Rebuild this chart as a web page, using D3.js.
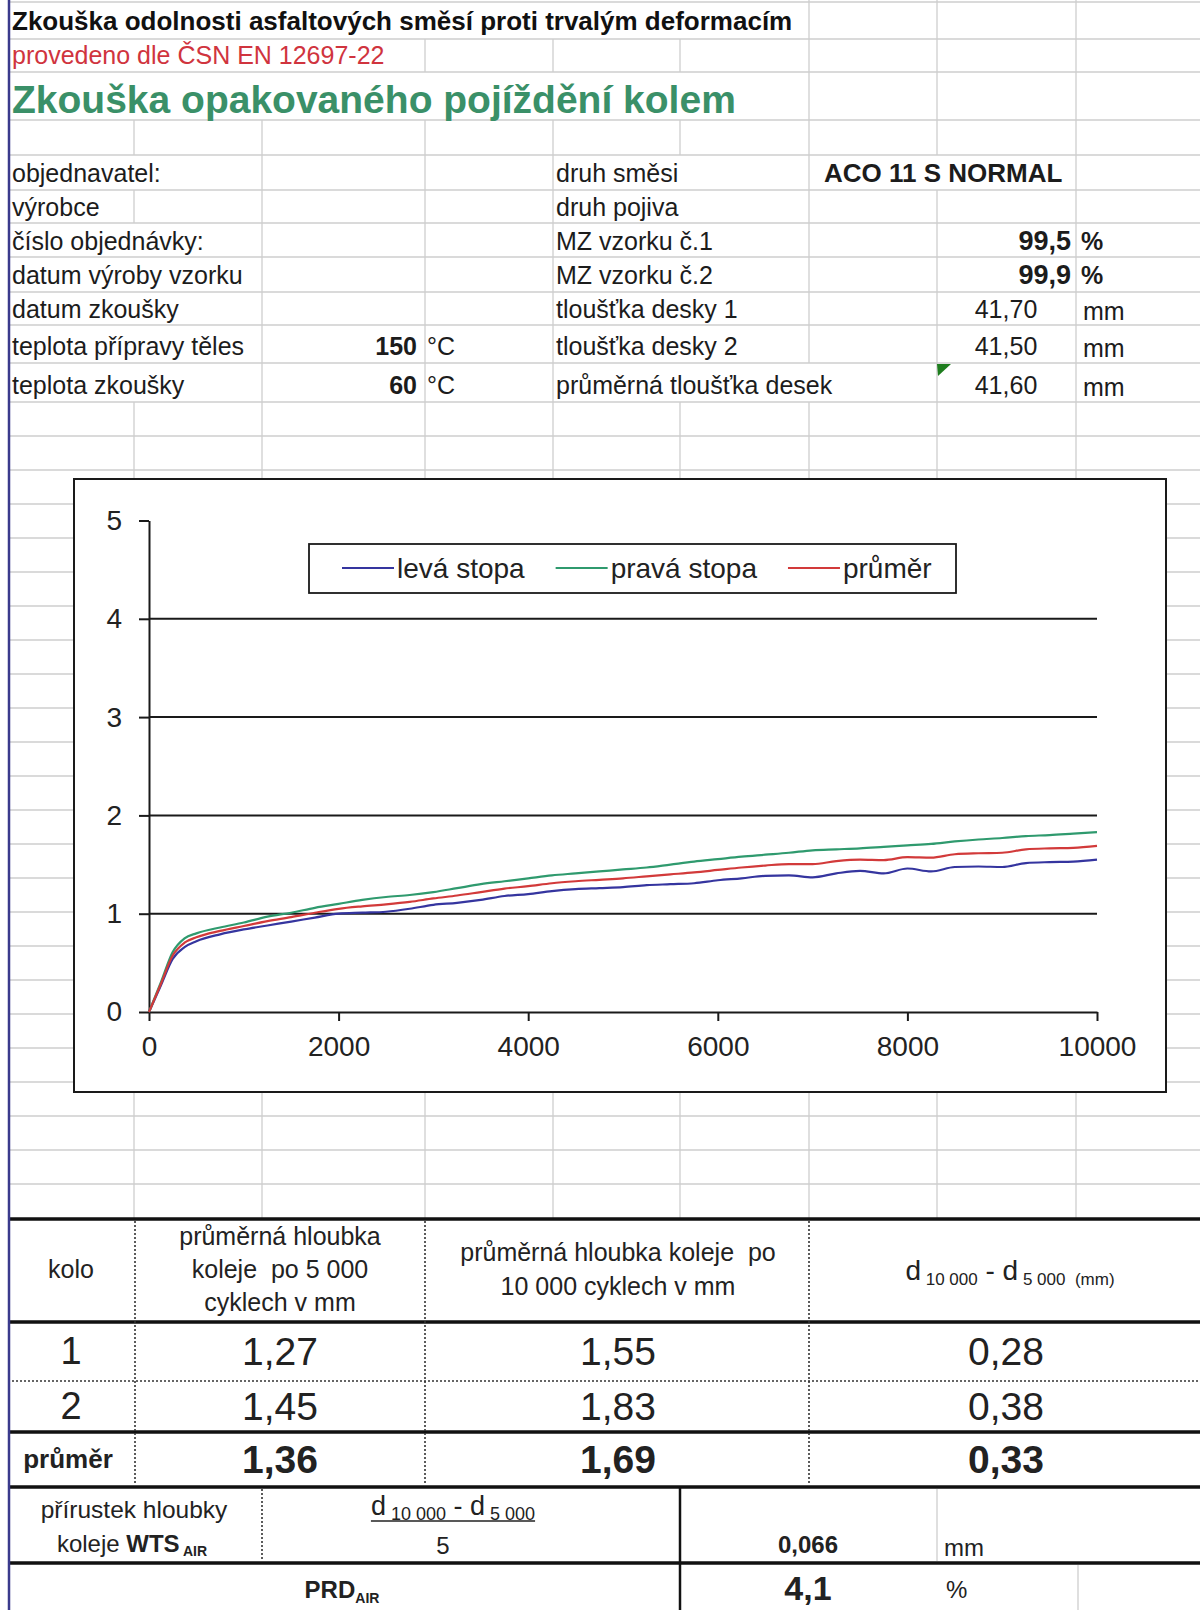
<!DOCTYPE html>
<html><head><meta charset="utf-8">
<script src="https://cdn.jsdelivr.net/npm/d3@7"></script>
<style>
body{margin:0;background:#fff;}
svg{display:block;font-family:"Liberation Sans",Arial,sans-serif;}
text{white-space:pre;}
</style></head><body>
<svg id="sheet" width="1200" height="1610"></svg>
<script>
// ---- wheel-tracking test data (rut depth in mm vs. load cycles) ----
const cycles = [0,125,250,375,500,750,1000,1250,1500,1750,2000,2250,2500,2750,3000,3250,3500,3750,4000,4250,4500,4750,5000,5250,5500,5750,6000,6250,6500,6750,7000,7250,7500,7750,8000,8250,8500,8750,9000,9250,9500,9750,10000];
const levaStopa = [0,0.27,0.54,0.66,0.72,0.79,0.84,0.88,0.92,0.96,1.00,1.01,1.02,1.05,1.09,1.11,1.14,1.18,1.20,1.23,1.25,1.26,1.27,1.29,1.30,1.31,1.34,1.36,1.385,1.39,1.37,1.41,1.435,1.41,1.46,1.43,1.475,1.48,1.475,1.515,1.525,1.53,1.55];
const pravaStopa = [0,0.30,0.61,0.75,0.80,0.86,0.91,0.97,1.01,1.06,1.10,1.14,1.17,1.19,1.22,1.26,1.30,1.33,1.36,1.39,1.41,1.43,1.45,1.47,1.50,1.53,1.555,1.58,1.60,1.62,1.645,1.655,1.665,1.68,1.695,1.71,1.735,1.755,1.77,1.79,1.80,1.815,1.83];
const prumer = [0,0.285,0.575,0.705,0.76,0.825,0.875,0.925,0.965,1.01,1.05,1.075,1.095,1.12,1.155,1.185,1.22,1.255,1.28,1.31,1.33,1.345,1.36,1.38,1.40,1.42,1.445,1.47,1.49,1.505,1.505,1.535,1.55,1.545,1.575,1.57,1.605,1.615,1.62,1.655,1.665,1.67,1.69];
const seriesNames = ["levá stopa","pravá stopa","průměr"];
const seriesColors = ["#35359f","#2f9a6e","#d23a3a"];
const xTicks = [0,2000,4000,6000,8000,10000];
const yTicks = [0,1,2,3,4,5];

// ---- header information ----
const leftLabels = ["objednavatel:","výrobce","číslo objednávky:","datum výroby vzorku","datum zkoušky","teplota přípravy těles","teplota zkoušky"];
const rightLabels = ["druh směsi","druh pojiva","MZ vzorku č.1","MZ vzorku č.2","tloušťka desky 1","tloušťka desky 2","průměrná tloušťka desek"];
const mixType = "ACO 11 S NORMAL";
const temperatures = [150, 60];
const compaction = [99.5, 99.9];
const thickness = [41.70, 41.50, 41.60];

// ---- results table ----
const koloLabels = ["1","2","průměr"];
const depth5000 = [1.27,1.45,1.36];
const depth10000 = [1.55,1.83,1.69];
const depthDiff = [0.28,0.38,0.33];
const wtsAir = 0.066;
const prdAir = 4.1;

const cz = d3.formatLocale({decimal:",", thousands:"\u00a0", grouping:[3], currency:["","\u00a0Kč"]});
const f1 = cz.format(".1f"), f2 = cz.format(".2f"), f3 = cz.format(".3f");

const svg = d3.select("#sheet");
svg.append("rect").attr("width",1200).attr("height",1610).attr("fill","#fff");
const gridG = svg.append("g");
const textG = svg.append("g");
const chartG = svg.append("g");
const tableG = svg.append("g");

const spill = [];
function cellText(g, xx, yy, str, o = {}) {
  const t = g.append("text").attr("x", xx).attr("y", yy).attr("dy", "0.35em")
    .attr("font-size", o.size || 25).attr("font-weight", o.bold ? "bold" : "normal")
    .attr("fill", o.fill || "#1c1c1c").attr("text-anchor", o.anchor || "start").text(str);
  if (g === textG) spill.push(t.node());
  return t;
}

// ---- sheet header ----
cellText(textG, 12, 21, "Zkouška odolnosti asfaltových směsí proti trvalým deformacím", {size:26, bold:true, fill:"#111"});
cellText(textG, 12, 55, "provedeno dle ČSN EN 12697-22", {size:25, fill:"#d0343e"});
cellText(textG, 12, 99, "Zkouška opakovaného pojíždění kolem", {size:39, bold:true, fill:"#3a9068"});

const infoY = [173, 207, 241, 275, 309, 346, 385];
leftLabels.forEach((s, i) => cellText(textG, 12, infoY[i], s));
rightLabels.forEach((s, i) => cellText(textG, 556, infoY[i], s));
temperatures.forEach((v, i) => {
  cellText(textG, 417, infoY[5 + i], String(v), {bold:true, anchor:"end"});
  cellText(textG, 427, infoY[5 + i], "°C");
});
cellText(textG, 824, infoY[0], mixType, {size:26, bold:true});
compaction.forEach((v, i) => {
  cellText(textG, 1071, infoY[2 + i], f1(v), {size:27, bold:true, anchor:"end"});
  cellText(textG, 1081, infoY[2 + i], "%", {bold:true});
});
thickness.forEach((v, i) => {
  cellText(textG, 1006, infoY[4 + i], f2(v), {anchor:"middle"});
  cellText(textG, 1083, infoY[4 + i] + 2, "mm");
});
// error indicator in the corner of the averaged thickness cell
textG.append("path").attr("d", "M937,364L951,364L938,376Z").attr("fill", "#1e7d1e");

// ---- spreadsheet gridlines (hidden where text spills over a cell border) ----
const colX = [134, 262, 425, 553, 680, 809, 937, 1076];
const rowY = [2, 39, 72, 120, 155, 190, 223, 257, 292, 325, 363, 402];
for (let yy = 436; yy <= 1184; yy += 34) rowY.push(yy);
const gridColor = "#cecece";
rowY.forEach(yy => gridG.append("line").attr("x1", 8).attr("x2", 1200).attr("y1", yy).attr("y2", yy)
  .attr("stroke", gridColor).attr("stroke-width", 1.3));
const boxes = spill.map(n => n.getBBox());
const bands = [0].concat(rowY.slice(1)).concat([1219]);
for (let i = 0; i < bands.length - 1; i++) {
  const top = bands[i], bot = bands[i + 1];
  colX.forEach(cx => {
    const hidden = boxes.some(b => {
      const cy = b.y + b.height / 2;
      return cy > top && cy < bot && cx > b.x - 2 && cx < b.x + b.width + 2;
    });
    if (!hidden) gridG.append("line").attr("x1", cx).attr("x2", cx).attr("y1", top).attr("y2", bot)
      .attr("stroke", gridColor).attr("stroke-width", 1.3);
  });
}
// window frame edge
svg.append("line").attr("x1", 9).attr("x2", 9).attr("y1", 0).attr("y2", 1610)
  .attr("stroke", "#3a3a8c").attr("stroke-width", 2.5);

// ---- chart ----
chartG.append("rect").attr("x", 74).attr("y", 479).attr("width", 1092).attr("height", 613)
  .attr("fill", "#fff").attr("stroke", "#1a1a1a").attr("stroke-width", 2);

const x = d3.scaleLinear().domain([0, 10000]).range([149, 1097]);
const y = d3.scaleLinear().domain([0, 5]).range([1012, 520.5]);

chartG.append("g").selectAll("line").data(yTicks.filter(v => v > 0 && v < 5)).join("line")
  .attr("x1", x(0)).attr("x2", x(10000)).attr("y1", d => y(d)).attr("y2", d => y(d))
  .attr("stroke", "#1a1a1a").attr("stroke-width", 2);

function styleAxis(g) {
  g.select(".domain").attr("stroke", "#1a1a1a").attr("stroke-width", 2);
  g.selectAll(".tick line").attr("stroke", "#1a1a1a").attr("stroke-width", 2);
  g.selectAll(".tick text").attr("font-size", 28).attr("fill", "#222")
    .attr("font-family", "'Liberation Sans',Arial,sans-serif");
}
chartG.append("g").attr("transform", `translate(${x(0)},0)`)
  .call(d3.axisLeft(y).tickValues(yTicks).tickSize(10).tickPadding(17).tickSizeOuter(0).tickFormat(d3.format("d")))
  .call(styleAxis);
chartG.append("g").attr("transform", `translate(0,${y(0)})`)
  .call(d3.axisBottom(x).tickValues(xTicks).tickSize(9).tickPadding(15).tickSizeOuter(0).tickFormat(d3.format("d")))
  .call(styleAxis);

const series = [levaStopa, pravaStopa, prumer];
const line = d3.line().x((d, i) => x(cycles[i])).y(d => y(d)).curve(d3.curveMonotoneX);
chartG.append("g").selectAll("path").data(series).join("path")
  .attr("d", line).attr("fill", "none")
  .attr("stroke", (d, i) => seriesColors[i]).attr("stroke-width", 2.2);

// legend
const legend = chartG.append("g");
legend.append("rect").attr("x", 309).attr("y", 544).attr("width", 647).attr("height", 49)
  .attr("fill", "#fff").attr("stroke", "#1a1a1a").attr("stroke-width", 1.8);
let lx = 342;
seriesNames.forEach((name, i) => {
  legend.append("line").attr("x1", lx).attr("x2", lx + 52).attr("y1", 568).attr("y2", 568)
    .attr("stroke", seriesColors[i]).attr("stroke-width", 2);
  const t = cellText(legend, lx + 55, 568, name, {size:28, fill:"#222"});
  lx = lx + 55 + t.node().getComputedTextLength() + 31;
});

// ---- results table ----
const ink = "#111";
[1219, 1322, 1432, 1487, 1563].forEach(yy => tableG.append("line")
  .attr("x1", 8).attr("x2", 1200).attr("y1", yy).attr("y2", yy).attr("stroke", ink).attr("stroke-width", 3.5));
tableG.append("line").attr("x1", 8).attr("x2", 1200).attr("y1", 1381).attr("y2", 1381)
  .attr("stroke", "#333").attr("stroke-width", 1.6).attr("stroke-dasharray", "2,2");
[135, 425, 809].forEach(xx => tableG.append("line").attr("x1", xx).attr("x2", xx).attr("y1", 1221).attr("y2", 1485)
  .attr("stroke", "#333").attr("stroke-width", 1.6).attr("stroke-dasharray", "2,2"));
tableG.append("line").attr("x1", 262).attr("x2", 262).attr("y1", 1489).attr("y2", 1561)
  .attr("stroke", "#333").attr("stroke-width", 1.6).attr("stroke-dasharray", "2,2");
tableG.append("line").attr("x1", 680).attr("x2", 680).attr("y1", 1487).attr("y2", 1610)
  .attr("stroke", ink).attr("stroke-width", 2.5);
tableG.append("line").attr("x1", 937).attr("x2", 937).attr("y1", 1489).attr("y2", 1561)
  .attr("stroke", gridColor).attr("stroke-width", 1.3);
tableG.append("line").attr("x1", 1078).attr("x2", 1078).attr("y1", 1565).attr("y2", 1610)
  .attr("stroke", gridColor).attr("stroke-width", 1.3);

const colC = [71, 280, 618, 1006];
const tcol = "#222";
cellText(tableG, colC[0], 1269, "kolo", {size:25, anchor:"middle", fill:tcol});
["průměrná hloubka", "koleje  po 5 000", "cyklech v mm"].forEach((s, i) =>
  cellText(tableG, colC[1], 1236 + i * 33, s, {size:25, anchor:"middle", fill:tcol}));
["průměrná hloubka koleje  po", "10 000 cyklech v mm"].forEach((s, i) =>
  cellText(tableG, colC[2], 1252 + i * 34, s, {size:25, anchor:"middle", fill:tcol}));

function formula(g, cx, cy, big, small, extra) {
  const t = g.append("text").attr("x", cx).attr("y", cy).attr("dy", "0.35em")
    .attr("text-anchor", "middle").attr("fill", tcol);
  t.append("tspan").attr("font-size", big).text("d");
  t.append("tspan").attr("font-size", small).attr("dy", 5).text(" 10 000");
  t.append("tspan").attr("font-size", big).attr("dy", -5).text(" - d");
  t.append("tspan").attr("font-size", small).attr("dy", 5).text(" 5 000");
  if (extra) t.append("tspan").attr("font-size", small).text(extra);
  return t;
}
formula(tableG, colC[3] + 4, 1274, 28, 17, "  (mm)");

const rowCY = [1351, 1406, 1459];
koloLabels.forEach((k, i) => {
  const bold = i === 2;
  cellText(tableG, colC[0] - (bold ? 3 : 0), rowCY[i], k, {size: bold ? 26 : 38, bold, anchor:"middle", fill:tcol});
  cellText(tableG, colC[1], rowCY[i], f2(depth5000[i]), {size:39, bold, anchor:"middle", fill:tcol});
  cellText(tableG, colC[2], rowCY[i], f2(depth10000[i]), {size:39, bold, anchor:"middle", fill:tcol});
  cellText(tableG, colC[3], rowCY[i], f2(depthDiff[i]), {size:39, bold, anchor:"middle", fill:tcol});
});

// rut depth increment
cellText(tableG, 134, 1509, "přírustek hloubky", {size:24.5, anchor:"middle", fill:tcol});
const wts = tableG.append("text").attr("x", 132).attr("y", 1544).attr("dy", "0.35em")
  .attr("text-anchor", "middle").attr("fill", tcol).attr("font-size", 24);
wts.append("tspan").text("koleje ");
wts.append("tspan").attr("font-weight", "bold").text("WTS");
wts.append("tspan").attr("font-weight", "bold").attr("font-size", 14).attr("dy", 4).text(" AIR");
const frac = formula(tableG, 453, 1509, 27, 18, null);
const fb = frac.node().getBBox();
tableG.append("line").attr("x1", fb.x).attr("x2", fb.x + fb.width).attr("y1", 1521).attr("y2", 1521)
  .attr("stroke", tcol).attr("stroke-width", 1.3);
cellText(tableG, 443, 1546, "5", {size:24, anchor:"middle", fill:tcol});
cellText(tableG, 808, 1545, f3(wtsAir), {size:24, bold:true, anchor:"middle", fill:tcol});
cellText(tableG, 944, 1548, "mm", {size:24, fill:tcol});

// proportional rut depth
const prd = tableG.append("text").attr("x", 342).attr("y", 1590).attr("dy", "0.35em")
  .attr("text-anchor", "middle").attr("fill", tcol).attr("font-weight", "bold").attr("font-size", 24);
prd.append("tspan").text("PRD");
prd.append("tspan").attr("font-size", 14).attr("dy", 5).text("AIR");
cellText(tableG, 808, 1588, f1(prdAir), {size:34, bold:true, anchor:"middle", fill:tcol});
cellText(tableG, 946, 1590, "%", {size:24, fill:tcol});
</script></body></html>
